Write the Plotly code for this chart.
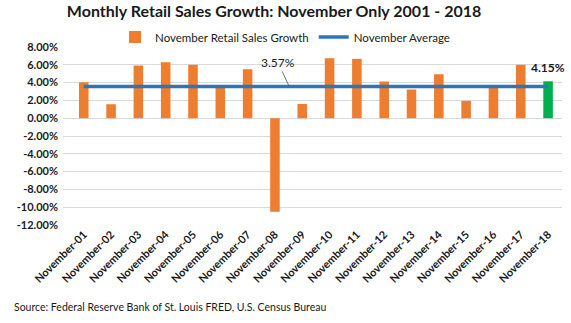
import plotly.graph_objects as go

categories = [f"November-{i:02d}" for i in range(1, 19)]
growth = [4.04, 1.57, 5.92, 6.29, 6.00, 3.40, 5.50, -10.50, 1.60,
          6.74, 6.67, 4.12, 3.22, 4.94, 1.95, 3.48, 6.00, 4.15]
avg_value = 3.57
average = [avg_value] * len(categories)
ytick_vals = [8, 6, 4, 2, 0, -2, -4, -6, -8, -10, -12]
ytick_text = [f"{v:.2f}%" for v in ytick_vals]

ORANGE = "#ED7D31"
GREEN = "#00B050"
BLUE = "#2E75B6"
FONT = "Lato"

bar_colors = [ORANGE] * (len(categories) - 1) + [GREEN]

fig = go.Figure()
fig.add_trace(go.Bar(
    x=categories, y=growth, name="November Retail Sales Growth",
    marker=dict(color=bar_colors, line=dict(width=0)), width=0.35,
))
fig.add_trace(go.Scatter(
    x=categories, y=average, mode="lines", name="November Average",
    line=dict(color=BLUE, width=3.5),
))

fig.add_annotation(
    x=7.52, y=avg_value, text=f"{avg_value:.2f}%", showarrow=True,
    arrowhead=0, arrowwidth=0.8, arrowcolor="#44546A", ax=-11, ay=-24,
    font=dict(family=FONT, size=12, color="#1a1a1a"),
)
fig.add_annotation(
    x=categories[-1], y=growth[-1], text=f"<b>{growth[-1]:.2f}%</b>",
    showarrow=False, yanchor="bottom", yshift=4,
    font=dict(family=FONT, size=12, color="#1a1a1a"),
)
fig.add_annotation(
    xref="paper", yref="paper", x=-0.103, y=-0.46, xanchor="left", yanchor="middle",
    text="Source: Federal Reserve Bank of St. Louis FRED, U.S. Census Bureau",
    showarrow=False, font=dict(family=FONT, size=10.5, color="#1a1a1a"),
)

fig.update_layout(
    width=571, height=323,
    margin=dict(l=63, r=9, t=47, b=98),
    paper_bgcolor="white", plot_bgcolor="white",
    title=dict(text="<b>Monthly Retail Sales Growth: November Only 2001 - 2018</b>",
               x=0.48, xanchor="center", y=0.965, yanchor="middle",
               font=dict(family=FONT, size=16, color="#1a1a1a")),
    legend=dict(orientation="h", x=0.445, xanchor="center", y=1.056, yanchor="middle",
                font=dict(family=FONT, size=11.5, color="#1a1a1a"),
                bgcolor="rgba(0,0,0,0)", traceorder="normal"),
    barmode="overlay",
    showlegend=True,
)
fig.update_xaxes(
    type="category", range=[-0.76, 17.51], tickangle=-45,
    tickfont=dict(family=FONT, size=11, color="#1a1a1a", weight="bold"),
    showgrid=False, showline=False, ticks="",
)
fig.update_yaxes(
    range=[-12, 8], tickvals=ytick_vals, ticktext=ytick_text,
    tickfont=dict(family=FONT, size=11, color="#1a1a1a", weight="bold"),
    showgrid=True, gridcolor="#D9D9D9", gridwidth=1,
    zeroline=True, zerolinecolor="#D9D9D9", zerolinewidth=1,
    showline=False, ticks="", ticklabelstandoff=4,
)

fig.write_html("out.html")
